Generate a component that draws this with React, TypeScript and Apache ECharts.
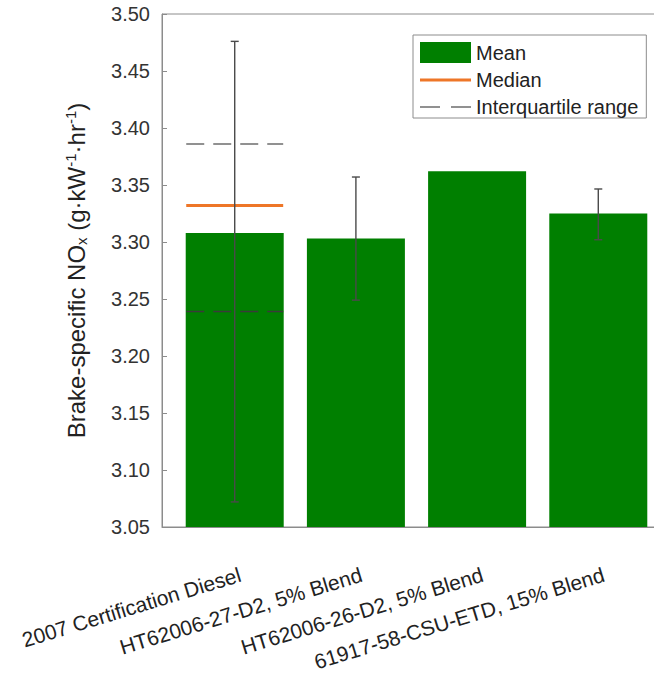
import React, { useEffect, useRef } from "react";
import * as echarts from "echarts";

const categories = [
  "2007 Certification Diesel",
  "HT62006-27-D2, 5% Blend",
  "HT62006-26-D2, 5% Blend",
  "61917-58-CSU-ETD, 15% Blend",
];
const meanValues = [3.308, 3.303, 3.362, 3.325];
const errLow: (number | null)[] = [3.072, 3.249, null, 3.302];
const errHigh: (number | null)[] = [3.476, 3.357, null, 3.3465];
const medianValues: (number | null)[] = [3.332, null, null, null];
const iqrLow: (number | null)[] = [3.239, null, null, null];
const iqrHigh: (number | null)[] = [3.386, null, null, null];
const yMin = 3.05;
const yMax = 3.5;
const yStep = 0.05;

const BAR_FRACTION = 0.8;
const LABEL_SHIFT = 0.045;
const GREEN = "#007f00";
const ORANGE = "#ee7628";
const FONT = "'Liberation Sans', Arial, sans-serif";

function segments(vals: (number | null)[]) {
  const out: any[] = [];
  vals.forEach((v, i) => {
    if (v == null) return;
    out.push([i + 1 - BAR_FRACTION / 2, v], [i + 1 + BAR_FRACTION / 2, v], [i + 1.5, "-"]);
  });
  return out;
}

export default function App() {
  const ref = useRef<HTMLDivElement>(null);
  useEffect(() => {
    if (!ref.current) return;
    const chart = echarts.init(ref.current, null, { renderer: "svg" });
    const option: any = {
      animation: false,
      backgroundColor: "#ffffff",
      textStyle: { fontFamily: FONT },
      grid: {
        left: 162,
        top: 14,
        width: 509,
        height: 513,
        outerBoundsMode: "none",
        containLabel: false,
        show: true,
        borderColor: "#8c8c8c",
        borderWidth: 1,
        backgroundColor: "transparent",
      },
      legend: {
        orient: "vertical",
        left: 413,
        top: 35,
        padding: [7, 8, 1, 7],
        itemGap: 7,
        itemWidth: 51,
        itemHeight: 21,
        symbolKeepAspect: true,
        backgroundColor: "#ffffff",
        borderColor: "#8c8c8c",
        borderWidth: 1,
        borderRadius: 0,
        textStyle: { fontSize: 20, color: "#222", fontFamily: FONT },
        data: [
          { name: "Mean", icon: "rect" },
          { name: "Median", icon: "path://M0 0 H51 V3 H0 Z" },
          { name: "Interquartile range", icon: "path://M0 0 H20 V1.6 H0 Z M31 0 H51 V1.6 H31 Z" },
        ],
        selectedMode: false,
      },
      xAxis: {
        type: "value",
        min: 0.4,
        max: 4.6,
        splitLine: { show: false },
        axisLine: { show: true, lineStyle: { color: "#8c8c8c", width: 1 } },
        axisTick: { show: false },
        axisLabel: {
          customValues: categories.map((_, i) => i + 1 + LABEL_SHIFT),
          formatter: (v: number) => categories[Math.round(v - LABEL_SHIFT) - 1] || "",
          rotate: 17,
          fontSize: 21,
          color: "#222",
          margin: 47,
          fontFamily: FONT,
          hideOverlap: false,
        },
      },
      yAxis: {
        type: "value",
        min: yMin,
        max: yMax,
        interval: yStep,
        splitLine: { show: false },
        axisLine: { show: true, lineStyle: { color: "#8c8c8c", width: 1 } },
        axisTick: { show: true, inside: true, length: 5, lineStyle: { color: "#8c8c8c" } },
        axisLabel: {
          formatter: (v: number) => v.toFixed(2),
          fontSize: 20,
          color: "#333",
          margin: 12,
          fontFamily: FONT,
        },
        name:
          "{n|Brake-specific NO}{sub|x}{n| (g·kW}{sup|-1}{n|·hr}{sup|-1}{n|)}",
        nameLocation: "middle",
        nameRotate: 90,
        nameGap: 73,
        nameTextStyle: {
          fontFamily: FONT,
          color: "#222",
          rich: {
            n: { fontSize: 24, lineHeight: 26, color: "#222", fontFamily: FONT },
            sub: { fontSize: 15, lineHeight: 15, verticalAlign: "bottom", color: "#222", fontFamily: FONT },
            sup: { fontSize: 15, lineHeight: 15, verticalAlign: "top", color: "#222", fontFamily: FONT },
          },
        },
      },
      series: [
        {
          name: "Mean",
          type: "bar",
          barWidth: 98,
          clip: true,
          itemStyle: { color: GREEN },
          data: meanValues.map((v, i) => [i + 1, v]),
          z: 1,
        },
        {
          name: "Median",
          type: "line",
          showSymbol: false,
          symbol: "none",
          lineStyle: { color: ORANGE, width: 3 },
          itemStyle: { color: ORANGE },
          data: segments(medianValues),
          z: 3,
        },
        {
          name: "Interquartile range",
          type: "line",
          symbol: "none",
          lineStyle: { color: "#6e6e6e", width: 1.6, type: [18, 9] },
          itemStyle: { color: "#6e6e6e" },
          data: segments(iqrHigh),
          z: 3,
        },
        {
          name: "Interquartile range",
          type: "line",
          symbol: "none",
          lineStyle: { color: "#3a3a3a", width: 1.4, type: [18, 9] },
          itemStyle: { color: "#3a3a3a" },
          data: segments(iqrLow),
          z: 3,
        },
        {
          name: "Error",
          type: "custom",
          z: 4,
          data: errLow.map((lo, i) => [i + 1, lo, errHigh[i]]),
          renderItem: (params: any, api: any) => {
            const lo = api.value(1);
            const hi = api.value(2);
            if (lo == null || hi == null || isNaN(lo) || isNaN(hi)) return null;
            const x = api.value(0);
            const pLo = api.coord([x, lo]);
            const pHi = api.coord([x, hi]);
            const cap = 4;
            const style = { stroke: "#4a4a4a", lineWidth: 1.4 };
            return {
              type: "group",
              children: [
                { type: "line", shape: { x1: pLo[0], y1: pLo[1], x2: pHi[0], y2: pHi[1] }, style },
                { type: "line", shape: { x1: pHi[0] - cap, y1: pHi[1], x2: pHi[0] + cap, y2: pHi[1] }, style },
                { type: "line", shape: { x1: pLo[0] - cap, y1: pLo[1], x2: pLo[0] + cap, y2: pLo[1] }, style },
              ],
            };
          },
        },
      ],
    };
    chart.setOption(option);
    return () => chart.dispose();
  }, []);
  return (
    <div style={{ position: "absolute", left: 0, top: 0, width: 654, height: 673, overflow: "hidden" }}>
      <div ref={ref} style={{ width: 720, height: 673 }} />
    </div>
  );
}
